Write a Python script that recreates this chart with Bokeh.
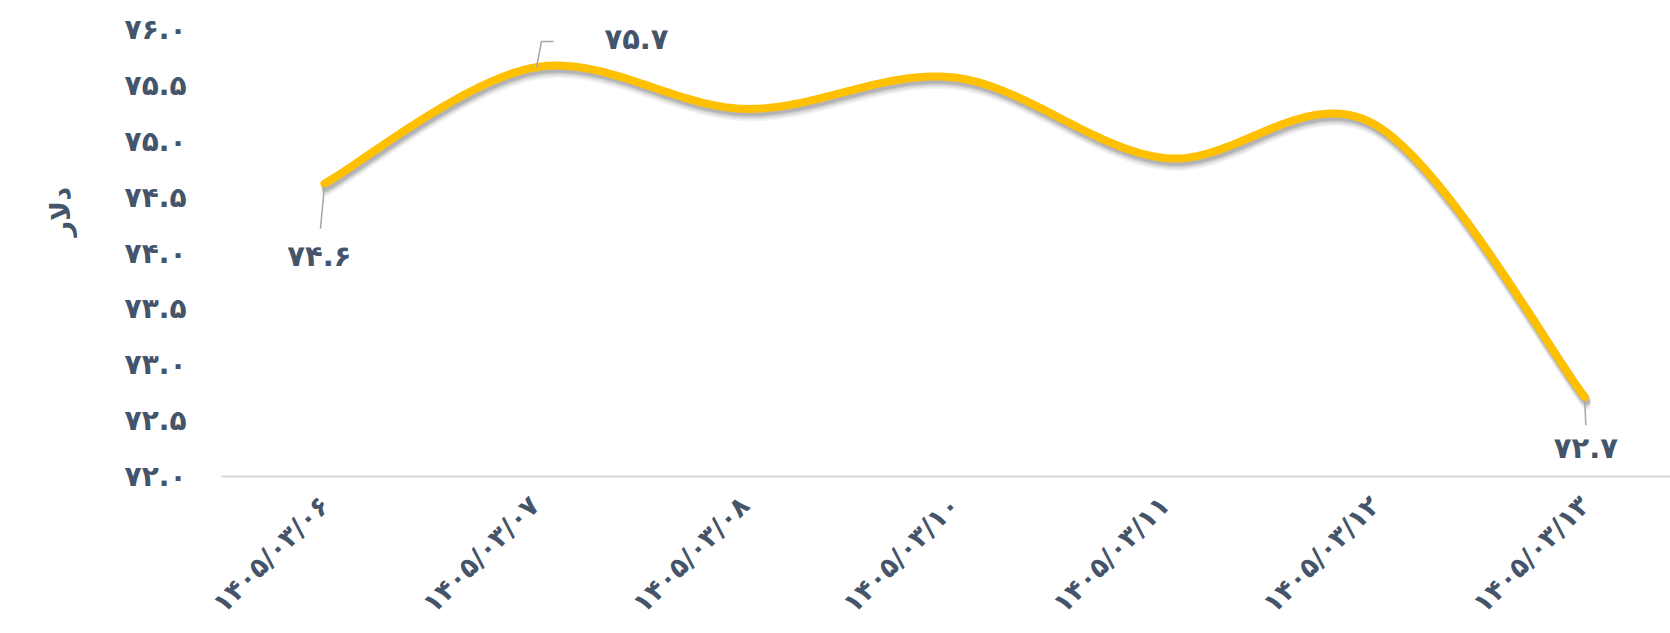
import numpy as np
from bokeh.plotting import figure
from bokeh.models import Range1d, FixedTicker, Title, ColumnDataSource
from bokeh.core.properties import value
from bokeh.embed import file_html
from bokeh.resources import INLINE

# ---- data ----
categories = ["۱۴۰۵/۰۳/۰۶", "۱۴۰۵/۰۳/۰۷", "۱۴۰۵/۰۳/۰۸", "۱۴۰۵/۰۳/۱۰",
              "۱۴۰۵/۰۳/۱۱", "۱۴۰۵/۰۳/۱۲", "۱۴۰۵/۰۳/۱۳"]
values = [74.62, 75.66, 75.29, 75.57, 74.85, 75.15, 72.71]
y_ticks = [72.0, 72.5, 73.0, 73.5, 74.0, 74.5, 75.0, 75.5, 76.0]
y_tick_labels = ["۷۲.۰", "۷۲.۵", "۷۳.۰", "۷۳.۵", "۷۴.۰", "۷۴.۵", "۷۵.۰", "۷۵.۵", "۷۶.۰"]
label_idx = [0, 1, 6]
label_texts = ["۷۴.۶", "۷۵.۷", "۷۲.۷"]
y_title = "دلار"

# ---- layout ----
W, H = 1670, 633
LEFT, RIGHT, TOP, BOTTOM = 220, 0, 29, 157
X0, X1 = -0.49, 6.408
Y0, Y1 = 72.0, 76.0
FONT = "DejaVu Sans"
TXT = "#44546A"

sx = (W - LEFT - RIGHT) / (X1 - X0)  # px per x unit
sy = (H - TOP - BOTTOM) / (Y1 - Y0)  # px per y unit

p = figure(width=W, height=H, output_backend="svg", toolbar_location=None,
           x_range=Range1d(X0, X1), y_range=Range1d(Y0, Y1),
           min_border_left=LEFT, min_border_right=RIGHT,
           min_border_top=TOP, min_border_bottom=BOTTOM)
p.outline_line_color = None
p.xgrid.visible = False
p.ygrid.visible = False
p.background_fill_color = "white"

# smooth curve (Excel-like smoothing in screen space)
xs = np.arange(len(values), dtype=float)
P = np.column_stack([xs * sx, np.array(values) * sy])
n = len(P)
cx, cy = [], []
for i in range(n - 1):
    p0 = P[max(i - 1, 0)]
    p1 = P[i]
    p2 = P[i + 1]
    p3 = P[min(i + 2, n - 1)]
    c1 = p1 + (p2 - p0) / 6.0
    c2 = p2 - (p3 - p1) / 6.0
    t = np.linspace(0, 1, 60)[:, None]
    seg = ((1 - t) ** 3) * p1 + 3 * ((1 - t) ** 2) * t * c1 + 3 * (1 - t) * t ** 2 * c2 + t ** 3 * p2
    if i > 0:
        seg = seg[1:]
    cx.extend(seg[:, 0] / sx)
    cy.extend(seg[:, 1] / sy)
cx = np.array(cx)
cy = np.array(cy)

# soft shadow
for k, a in [(8, 0.05), (6, 0.08), (4, 0.10), (2.5, 0.10)]:
    p.line(cx + 1.5 / sx, cy - k / sy, line_color="black", line_alpha=a,
           line_width=9, line_cap="round", line_join="round")
p.line(cx, cy, line_color="#FFC000", line_width=8, line_cap="round", line_join="round")

# leader lines (pixel offsets from points)
leaders = {0: [(0, 3), (-4, 45)],
           1: [(2, 0), (7, -26), (19, -26)],
           6: [(0, 4), (1, 28)]}
for i, pts in leaders.items():
    lx = [xs[i] + dx / sx for dx, dy in pts]
    ly = [values[i] - dy / sy for dx, dy in pts]
    p.line(lx, ly, line_color="#A6A6A6", line_width=1.5)

# data labels
offsets = {0: (-5, 72), 1: (102, -28), 6: (1, 51)}
src = ColumnDataSource(dict(
    x=[xs[i] for i in label_idx],
    y=[values[i] for i in label_idx],
    t=label_texts,
    xo=[offsets[i][0] for i in label_idx],
    yo=[offsets[i][1] for i in label_idx],
))
p.text(x="x", y="y", text="t", x_offset="xo", y_offset="yo", source=src,
       text_font=value(FONT), text_font_style="bold", text_font_size="29px",
       text_color=TXT, text_align="center", text_baseline="middle")

# axes
p.xaxis.ticker = FixedTicker(ticks=list(xs))
p.xaxis.major_label_overrides = {float(i): c for i, c in enumerate(categories)}
p.xaxis.major_label_overrides.update({int(i): c for i, c in enumerate(categories)})
p.xaxis.major_label_orientation = np.pi / 4
p.xaxis.major_tick_line_color = None
p.xaxis.minor_tick_line_color = None
p.xaxis.axis_line_color = "#D9D9D9"
p.xaxis.axis_line_width = 2
p.xaxis.major_label_text_font = FONT
p.xaxis.major_label_text_font_style = "bold"
p.xaxis.major_label_text_font_size = "27px"
p.xaxis.major_label_text_color = TXT
p.xaxis.major_label_standoff = 18

p.yaxis.ticker = FixedTicker(ticks=y_ticks)
p.yaxis.major_label_overrides = {t: l for t, l in zip(y_ticks, y_tick_labels)}
p.yaxis.major_tick_line_color = None
p.yaxis.minor_tick_line_color = None
p.yaxis.axis_line_color = None
p.yaxis.major_label_text_font = FONT
p.yaxis.major_label_text_font_style = "bold"
p.yaxis.major_label_text_font_size = "28px"
p.yaxis.major_label_text_color = TXT
p.yaxis.major_label_standoff = 29

p.add_layout(Title(text=y_title, align="left", offset=240, standoff=88, vertical_align="top",
                   text_font=FONT, text_font_style="bold", text_font_size="27px",
                   text_color=TXT), "left")

open("out.html", "w").write(file_html(p, INLINE))
